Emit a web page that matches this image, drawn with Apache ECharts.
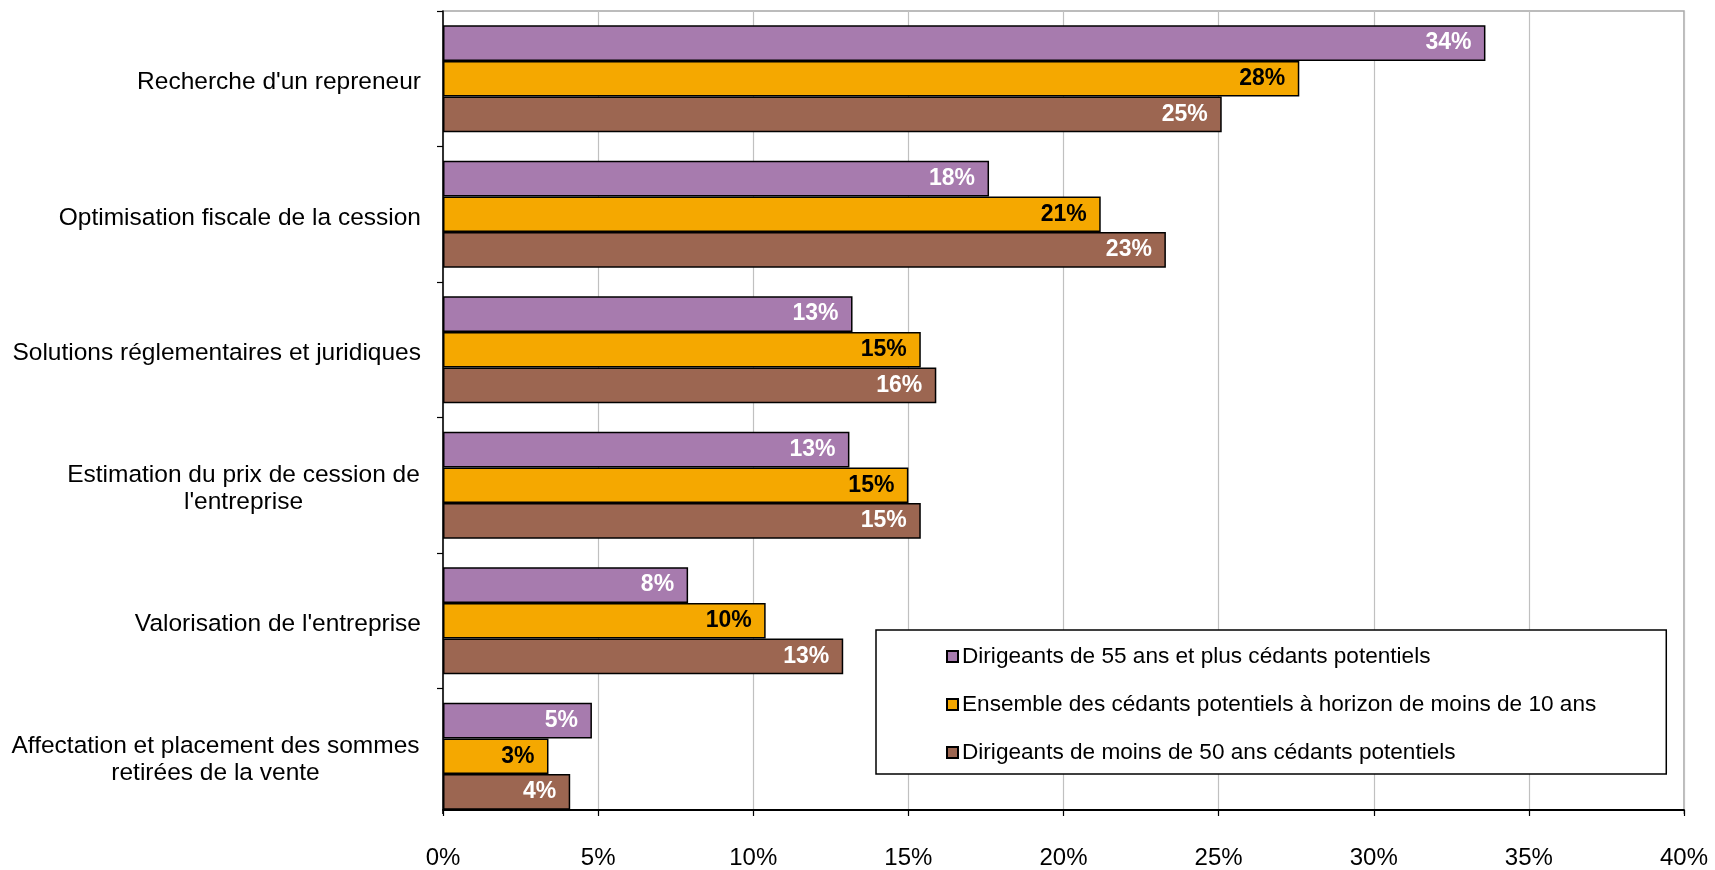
<!DOCTYPE html>
<html>
<head>
<meta charset="utf-8">
<script src="https://cdn.jsdelivr.net/npm/echarts@6/dist/echarts.min.js"></script>
<style>html,body{margin:0;padding:0;background:#fff}#c{width:1715px;height:870px}</style>
</head>
<body>
<div id="c"></div>
<script>
const categories = [
  "Recherche d'un repreneur",
  "Optimisation fiscale de la cession",
  "Solutions réglementaires et juridiques",
  "Estimation du prix de cession de\nl'entreprise",
  "Valorisation de l'entreprise",
  "Affectation et placement des sommes\nretirées de la vente"
];
const seriesNames = [
  "Dirigeants de 55 ans et plus cédants potentiels",
  "Ensemble des cédants potentiels à horizon de moins de 10 ans",
  "Dirigeants de moins de 50 ans cédants potentiels"
];
const senior = [33.6, 17.6, 13.2, 13.1, 7.9, 4.8];
const ensemble = [27.6, 21.2, 15.4, 15.0, 10.4, 3.4];
const young = [25.1, 23.3, 15.9, 15.4, 12.9, 4.1];
const xTicks = [0, 5, 10, 15, 20, 25, 30, 35, 40];

const colors = ['#A77BAE', '#F5A800', '#9C6651'];
const labelColors = ['#ffffff', '#000000', '#ffffff'];
const FONT = '"Liberation Sans", Arial, sans-serif';
const CAT_SIZE = 24.5;

// measure for centered multi-line category labels
const mctx = document.createElement('canvas').getContext('2d');
mctx.font = CAT_SIZE + 'px ' + FONT;
const rich = {};
categories.forEach((c, i) => {
  const lines = c.split('\n');
  if (lines.length > 1) {
    const w = Math.ceil(Math.max(...lines.map(l => mctx.measureText(l).width))) + 2;
    rich['a' + i] = {width: w, align: 'center', fontSize: CAT_SIZE, fontFamily: FONT, color: '#000', lineHeight: 27};
    rich['b' + i] = {width: w, align: 'center', fontSize: CAT_SIZE, fontFamily: FONT, color: '#000', lineHeight: 27};
  }
});

const data = [senior, ensemble, young];
const chart = echarts.init(document.getElementById('c'), null, {renderer: 'canvas'});
const xBase = {type: 'value', min: xTicks[0], max: xTicks[xTicks.length - 1], interval: 5};
chart.setOption({
  animation: false,
  backgroundColor: '#fff',
  grid: {left: 443, right: 31, top: 11, bottom: 43, show: true, borderColor: '#A6A6A6', borderWidth: 1.5, containLabel: false, z: 0},
  xAxis: [
    Object.assign({}, xBase, {
      z: 0,
      axisLine: {show: false}, axisTick: {show: false}, axisLabel: {show: false},
      splitLine: {show: true, lineStyle: {color: '#C0C0C0', width: 1.2}}
    }),
    Object.assign({}, xBase, {
      z: 10, position: 'bottom', offset: -14,
      axisLine: {show: true, onZero: false, lineStyle: {color: '#000', width: 1.8}},
      axisTick: {show: true, inside: false, length: 6, lineStyle: {color: '#000', width: 1.2}},
      splitLine: {show: false},
      axisLabel: {formatter: '{value}%', fontSize: 24, fontFamily: FONT, color: '#000', margin: 36}
    })
  ],
  yAxis: {
    type: 'category', data: categories, inverse: true, z: 0,
    axisLine: {show: true, lineStyle: {color: '#000', width: 1.5}},
    axisTick: {show: true, length: 6, lineStyle: {color: '#000', width: 1.2}},
    splitLine: {show: false},
    axisLabel: {
      fontSize: CAT_SIZE, fontFamily: FONT, color: '#000', margin: 22, lineHeight: 27,
      padding: [7, 0, 0, 0],
      formatter: (v, idx) => {
        const lines = v.split('\n');
        if (lines.length > 1) return '{a' + idx + '|' + lines[0] + '}\n{b' + idx + '|' + lines[1] + '}';
        return v;
      },
      rich: rich
    }
  },
  graphic: [{
    type: 'rect', z: 1, silent: true,
    shape: {x: 425, y: 814, width: 1290, height: 15},
    style: {fill: '#fff'}
  }],
  legend: {
    orient: 'vertical', left: 876, top: 630, z: 20,
    padding: [15, 70, 10, 70], itemGap: 25,
    itemWidth: 11, itemHeight: 11, icon: 'rect',
    backgroundColor: '#fff', borderColor: '#000', borderWidth: 1.5,
    textStyle: {fontSize: 22.6, fontFamily: FONT, color: '#000', padding: [0, 0, 0, -1]},
    data: seriesNames
  },
  series: seriesNames.map((n, s) => ({
    name: n, type: 'bar', data: data[s], xAxisIndex: 0, z: 2,
    barWidth: 35.7, barGap: '0%',
    itemStyle: {color: colors[s], borderColor: '#000', borderWidth: 1.5},
    label: {
      show: true, position: 'insideRight', distance: 14,
      formatter: p => Math.round(p.value) + '%',
      color: labelColors[s], fontSize: 23, fontWeight: 'bold', fontFamily: FONT
    }
  }))
});
</script>
</body>
</html>
